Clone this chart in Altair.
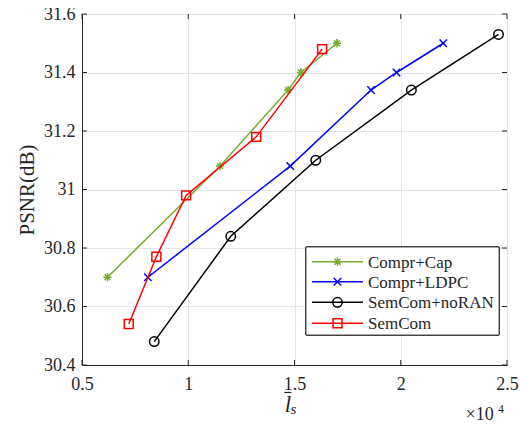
import altair as alt
import pandas as pd

series = ["Compr+Cap", "Compr+LDPC", "SemCom+noRAN", "SemCom"]
colors = ["#77AC30", "#0000FF", "#000000", "#FF0000"]

cap_x = [0.62, 1.15, 1.47, 1.53, 1.70]
cap_y = [30.70, 31.08, 31.34, 31.40, 31.50]
ldpc_x = [0.81, 1.48, 1.86, 1.98, 2.20]
ldpc_y = [30.70, 31.08, 31.34, 31.40, 31.50]
noran_x = [0.84, 1.20, 1.60, 2.05, 2.46]
noran_y = [30.48, 30.84, 31.10, 31.34, 31.53]
sem_x = [0.72, 0.85, 0.99, 1.32, 1.63]
sem_y = [30.54, 30.77, 30.98, 31.18, 31.48]

xs = [cap_x, ldpc_x, noran_x, sem_x]
ys = [cap_y, ldpc_y, noran_y, sem_y]

x_ticks = [0.5, 1.0, 1.5, 2.0, 2.5]
y_ticks = [30.4, 30.6, 30.8, 31.0, 31.2, 31.4, 31.6]

FONT = "Liberation Serif"
AX = "#262626"

ASTER = "M0,-1L0,1M-1,0L1,0M-0.7,-0.7L0.7,0.7M-0.7,0.7L0.7,-0.7"
XMARK = "M-1,-1L1,1M-1,1L1,-1"
shapes = [ASTER, XMARK, "circle", "square"]
sizes = [70, 55, 90, 80]

OY = 4  # small downward shift of the plot so the top tick label stays inside
W, H = 425, 355 - OY

xscale = alt.Scale(domain=[0.5, 2.5], nice=False, zero=False)
yscale = alt.Scale(domain=[30.4, 31.6], nice=False, zero=False)

xaxis = alt.Axis(values=x_ticks, labelExpr="datum.value == 1 || datum.value == 2 ? format(datum.value, 'd') : format(datum.value, '.1f')",
                 title=None, grid=True, gridColor="#E4E4E4", ticks=False, labelPadding=10,
                 labelFlush=False, labelOverlap=False,
                 labelFont=FONT, labelFontSize=18, labelColor=AX, domainColor=AX)
yaxis = alt.Axis(values=y_ticks, labelExpr="datum.value == 31 ? '31' : format(datum.value, '.1f')",
                 title="PSNR(dB)", titleFont=FONT, titleFontSize=21, titleFontWeight="normal",
                 titleColor=AX, titlePadding=6,
                 grid=True, gridColor="#E4E4E4", ticks=False, labelPadding=7,
                 labelFlush=False, labelOverlap=False,
                 labelFont=FONT, labelFontSize=18, labelColor=AX, domainColor=AX)

layers = []
for i, name in enumerate(series):
    df = pd.DataFrame({"x": xs[i], "y": ys[i], "s": name})
    base = alt.Chart(df)
    enc = dict(x=alt.X("x:Q", scale=xscale, axis=xaxis),
               y=alt.Y("y:Q", scale=yscale, axis=yaxis))
    layers.append(base.mark_line(color=colors[i], strokeWidth=1.5).encode(**enc))
    layers.append(base.mark_point(color=colors[i], shape=shapes[i], size=sizes[i],
                                  filled=False, strokeWidth=1.5, opacity=1).encode(**enc))

# inward ticks on all four sides
TL = 5
xt = pd.DataFrame({"x": x_ticks})
yt = pd.DataFrame({"y": y_ticks})
layers.append(alt.Chart(xt).mark_rule(color=AX, strokeWidth=1).encode(
    x=alt.X("x:Q", scale=xscale), y=alt.value(H), y2=alt.value(H - TL)))
layers.append(alt.Chart(xt).mark_rule(color=AX, strokeWidth=1).encode(
    x=alt.X("x:Q", scale=xscale), y=alt.value(0), y2=alt.value(TL)))
layers.append(alt.Chart(yt).mark_rule(color=AX, strokeWidth=1).encode(
    y=alt.Y("y:Q", scale=yscale), x=alt.value(0), x2=alt.value(TL)))
layers.append(alt.Chart(yt).mark_rule(color=AX, strokeWidth=1).encode(
    y=alt.Y("y:Q", scale=yscale), x=alt.value(W), x2=alt.value(W - TL)))

# legend box
leg_df = pd.DataFrame({"s": series})
layers.append(alt.Chart(leg_df).mark_rect(fill="white", stroke=AX, strokeWidth=0.8).encode(
    x=alt.value(224), x2=alt.value(417), y=alt.value(237 - OY), y2=alt.value(325 - OY)))
row_y = [251.7, 271.7, 292.3, 313.3]
for i, name in enumerate(series):
    d = pd.DataFrame({"s": [name]})
    c = alt.Chart(d)
    ry = row_y[i] - OY
    layers.append(c.mark_rule(color=colors[i], strokeWidth=1.5).encode(
        x=alt.value(230), x2=alt.value(281), y=alt.value(ry)))
    layers.append(c.mark_point(color=colors[i], shape=shapes[i], size=sizes[i],
                               filled=False, strokeWidth=1.5, opacity=1).encode(
        x=alt.value(255.5), y=alt.value(ry)))
    layers.append(c.mark_text(font=FONT, fontSize=17, align="left", baseline="middle", color=AX).encode(
        x=alt.value(286), y=alt.value(ry + 1), text="s:N"))

# x-axis title: l-bar subscript s, and the x10^4 multiplier
t = pd.DataFrame({"a": ["l"], "b": ["s"], "c": ["×10"], "d": ["4"]})
tc = alt.Chart(t)
layers.append(tc.mark_text(font=FONT, fontSize=23, fontStyle="italic", align="center", baseline="alphabetic", color=AX).encode(
    x=alt.value(206), y=alt.value(401.5 - OY), text="a:N"))
layers.append(tc.mark_rule(color=AX, strokeWidth=1.2).encode(
    x=alt.value(202.3), x2=alt.value(209.5), y=alt.value(382.5 - OY)))
layers.append(tc.mark_text(font=FONT, fontSize=15, fontStyle="italic", align="left", baseline="alphabetic", color=AX).encode(
    x=alt.value(208.5), y=alt.value(404 - OY), text="b:N"))
layers.append(tc.mark_text(font=FONT, fontSize=18, align="left", baseline="alphabetic", color=AX).encode(
    x=alt.value(383.5), y=alt.value(410 - OY), text="c:N"))
layers.append(tc.mark_text(font=FONT, fontSize=12, align="left", baseline="alphabetic", color=AX).encode(
    x=alt.value(416), y=alt.value(403 - OY), text="d:N"))

chart = alt.layer(*layers).properties(
    width=W, height=H,
    autosize=alt.AutoSizeParams(type="none"),
    padding={"left": 74, "top": 2 + OY, "right": 12, "bottom": 60},
).configure_view(stroke=AX, strokeWidth=1).configure_axis(
    labelFont=FONT, titleFont=FONT
).configure(background="white")

chart.save("out.html", embed_options={"renderer": "svg", "actions": False})
